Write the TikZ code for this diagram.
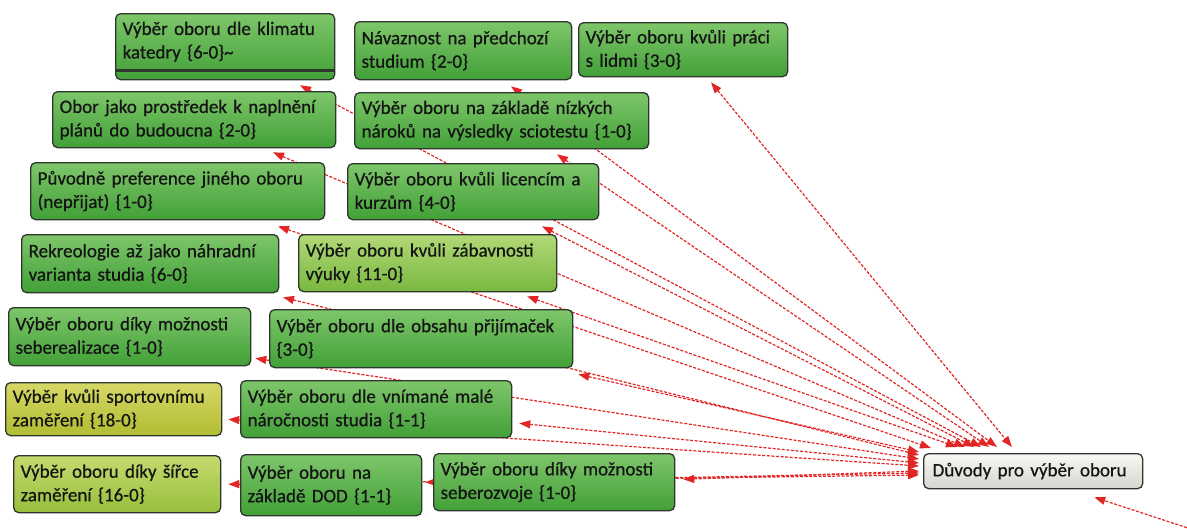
\documentclass[tikz,border=0pt]{standalone}
\usepackage{fontspec}
\setmainfont{Carlito}
\newfontfamily\codefam{Carlito}[FakeBold=0.6]
\usetikzlibrary{arrows.meta,backgrounds}

\definecolor{boxline}{RGB}{45,55,45}
\definecolor{greenTop}{RGB}{126,198,106}
\definecolor{greenBot}{RGB}{66,160,56}
\definecolor{limeTop}{RGB}{178,216,118}
\definecolor{limeBot}{RGB}{120,184,64}
\definecolor{oliveTop}{RGB}{214,216,102}
\definecolor{oliveBot}{RGB}{178,188,50}
\definecolor{pearTop}{RGB}{198,218,110}
\definecolor{pearBot}{RGB}{150,192,60}
\definecolor{hubTop}{RGB}{248,248,244}
\definecolor{hubBot}{RGB}{214,214,208}
\definecolor{linkred}{RGB}{226,38,38}

\newcommand\codefont{\codefam\fontsize{19}{23.5}\selectfont}
\newcommand\twoline[2]{\mbox{#1}\\\mbox{#2}}

\tikzset{
  code/.style={draw=boxline, line width=1.3pt, rounded corners=5pt,
    anchor=north west, align=left, inner xsep=7pt, inner ysep=0pt,
    font=\codefont, text=black!92, top color=greenTop, bottom color=greenBot},
  lime/.style={top color=limeTop, bottom color=limeBot},
  olive/.style={top color=oliveTop, bottom color=oliveBot},
  pear/.style={top color=pearTop, bottom color=pearBot},
  hubbox/.style={code, top color=hubTop, bottom color=hubBot, inner xsep=9pt},
  link/.style={draw=linkred, line width=1.2pt, dash pattern=on 3pt off 1.6pt,
    {Triangle[length=11pt,width=8pt]}-{Triangle[length=11pt,width=8pt]}},
  linkin/.style={draw=linkred, line width=1.2pt, dash pattern=on 3pt off 1.6pt,
    -{Triangle[length=11pt,width=8pt]}},
}

\begin{document}
\begin{tikzpicture}[x=1pt,y=-1pt]
\useasboundingbox (0,0) rectangle (1187,528);
\clip (0,0) rectangle (1187,528);

% ---- codes ----
\node[code, text width=205pt, minimum height=66pt] (klima) at (115,13)
  {\twoline{Výběr oboru dle klimatu}{katedry \{6-0\}\textasciitilde}\par\vspace{10pt}};
\draw[boxline, line width=2.4pt] ([xshift=1pt,yshift=10pt]klima.south west) -- ([xshift=-1pt,yshift=10pt]klima.south east);
\node[code, text width=203pt, minimum height=58pt] (navaz) at (354,21)
  {\twoline{Návaznost na předchozí}{studium \{2-0\}}};
\node[code, text width=195pt, minimum height=54pt] (lidmi) at (578,22)
  {\twoline{Výběr oboru kvůli práci}{s lidmi \{3-0\}}};
\node[code, text width=269pt, minimum height=56pt] (obor) at (52,91)
  {\twoline{Obor jako prostředek k naplnění}{plánů do budoucna \{2-0\}}};
\node[code, text width=280pt, minimum height=56pt] (sciot) at (354,92)
  {\twoline{Výběr oboru na základě nízkých}{nároků na výsledky sciotestu \{1-0\}}};
\node[code, text width=280pt, minimum height=57pt] (puvod) at (30,162)
  {\twoline{Původně preference jiného oboru}{(nepřijat) \{1-0\}}};
\node[code, text width=237pt, minimum height=56pt] (licen) at (347,163)
  {\twoline{Výběr oboru kvůli licencím a}{kurzům \{4-0\}}};
\node[code, text width=243pt, minimum height=58pt] (rekre) at (21,234)
  {\twoline{Rekreologie až jako náhradní}{varianta studia \{6-0\}}};
\node[code, lime, text width=244pt, minimum height=57pt] (zabav) at (298,234)
  {\twoline{Výběr oboru kvůli zábavnosti}{výuky \{11-0\}}};
\node[code, text width=228pt, minimum height=58pt] (seber) at (8,307)
  {\twoline{Výběr oboru díky možnosti}{seberealizace \{1-0\}}};
\node[code, text width=289pt, minimum height=58pt] (prijim) at (269,309)
  {\twoline{Výběr oboru dle obsahu přijímaček}{\{3-0\}}};
\node[code, olive, text width=202pt, minimum height=53pt] (sport) at (5,382)
  {\twoline{Výběr kvůli sportovnímu}{zaměření \{18-0\}}};
\node[code, text width=257pt, minimum height=57pt] (vniman) at (240,380)
  {\twoline{Výběr oboru dle vnímané malé}{náročnosti studia \{1-1\}}};
\node[code, pear, text width=193pt, minimum height=57pt] (sirce) at (13,455)
  {\twoline{Výběr oboru díky šířce}{zaměření \{16-0\}}};
\node[code, text width=167pt, minimum height=61pt] (dod) at (240,454)
  {\twoline{Výběr oboru na}{základě DOD \{1-1\}}};
\node[code, text width=227pt, minimum height=57pt] (rozvoj) at (433,453)
  {\twoline{Výběr oboru díky možnosti}{seberozvoje \{1-0\}}};

% ---- central code ----
\node[hubbox, text width=201pt, minimum height=35pt] (hub) at (923,453)
  {\mbox{Důvody pro výběr oboru}};

\coordinate (offpage) at (1200,532);

% ---- relations, drawn beneath the boxes ----
\begin{scope}[on background layer]
\draw[link] ([xshift=133pt,yshift=-5pt]lidmi.south west)  -- ([xshift=89pt,yshift=6pt]hub.north west);
\draw[link] ([xshift=157pt,yshift=-6pt]navaz.south west)  -- ([xshift=74pt,yshift=6pt]hub.north west);
\draw[link] ([xshift=203pt,yshift=-5pt]sciot.south west)  -- ([xshift=66pt,yshift=6pt]hub.north west);
\draw[link] ([xshift=185pt,yshift=-5pt]klima.south west)  -- ([xshift=58pt,yshift=6pt]hub.north west);
\draw[link] ([xshift=195pt,yshift=-6pt]licen.south west)  -- ([xshift=51pt,yshift=6pt]hub.north west);
\draw[link] ([xshift=221pt,yshift=-4pt]obor.south west)   -- ([xshift=42pt,yshift=6pt]hub.north west);
\draw[link] ([xshift=229pt,yshift=-4pt]zabav.south west)  -- ([xshift=34pt,yshift=6pt]hub.north west);
\draw[link] ([xshift=248pt,yshift=-6pt]puvod.south west)  -- ([xshift=8pt,yshift=5pt]hub.north west);
\draw[link] ([xshift=5pt,yshift=-6pt]prijim.south east)   -- ([xshift=-4pt,yshift=1pt]hub.north west);
\draw[link] ([xshift=262pt,yshift=-4pt]rekre.south west)  -- ([xshift=-4pt,yshift=-2pt]hub.north west);
\draw[link] ([xshift=4pt,yshift=8pt]seber.south east)     -- ([xshift=-4pt,yshift=-6pt]hub.north west);
\draw[link] ([xshift=7pt,yshift=15pt]vniman.south east)   -- ([xshift=-4pt,yshift=-10pt]hub.north west);
\draw[link] ([xshift=6pt,yshift=17pt]sport.south east)    -- ([xshift=-4pt,yshift=-13pt]hub.north west);
\draw[link] ([xshift=8pt,yshift=32pt]rozvoj.south east)   -- ([xshift=-4pt,yshift=-18pt]hub.north west);
\draw[link] ([xshift=3pt,yshift=34pt]dod.south east)      -- ([xshift=-4pt,yshift=-20pt]hub.north west);
\draw[link] ([xshift=7pt,yshift=29pt]sirce.south east)    -- ([xshift=-4pt,yshift=-22pt]hub.north west);
\draw[linkin] (offpage) -- ([xshift=-49pt,yshift=-8pt]hub.south east);
\end{scope}
\end{tikzpicture}
\end{document}
